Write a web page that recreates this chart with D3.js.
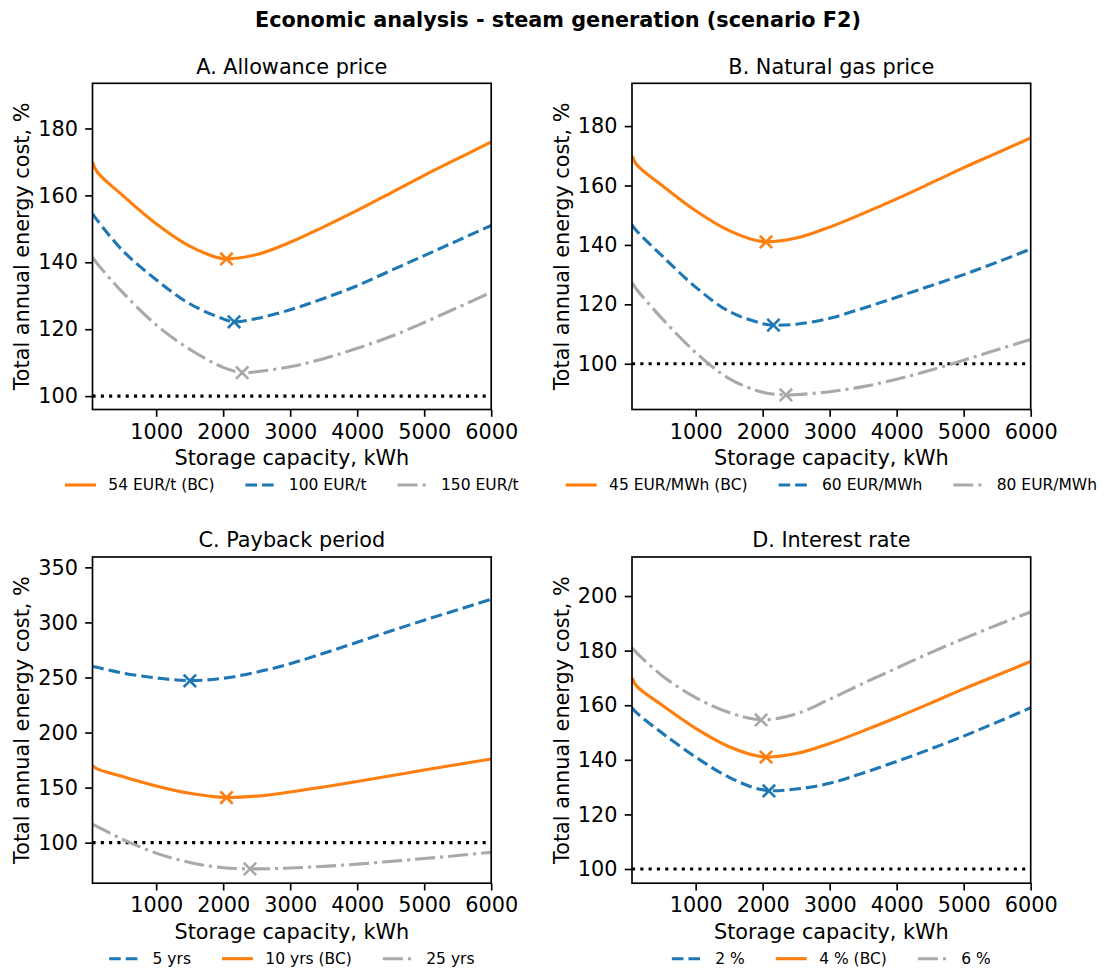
<!DOCTYPE html>
<html>
<head>
<meta charset="utf-8">
<script src="https://cdn.jsdelivr.net/npm/d3@7"></script>
<style>
  body { margin: 0; background: #fff; }
  text { font-family: "DejaVu Sans", sans-serif; fill: #000; }
</style>
</head>
<body>
<svg id="chart" width="1108" height="970"></svg>
<script>
// storage capacity grid, kWh
const capacity = [50, 120, 500, 1000, 1500, 2000, 2500, 3000, 3500, 4000, 4500, 5000, 5500, 6000];
const xTicks = [1000, 2000, 3000, 4000, 5000, 6000];

// base case (same curve in every panel)
const baseCase = [170, 167, 160.0, 151.5, 144.8, 141.1, 142.3, 146, 150.6, 155.5, 160.7, 166, 171, 176];
const baseOpt = [2050, 141];

// A. allowance price
const allow100 = [154.5, 152.6, 143.5, 134.8, 127.6, 123.1, 123.2, 125.8, 129.2, 133, 137.5, 142, 146.5, 151];
const allow150 = [141.5, 139.6, 131, 121.3, 114, 108.6, 107.3, 108.8, 111.2, 114.3, 117.8, 122, 126.5, 131];
const allow100Opt = [2163, 122.2];
const allow150Opt = [2283, 107];

// B. natural gas price
const gas60 = [146.7, 144.7, 136.3, 125.8, 117.6, 113.5, 113.3, 115.3, 118.7, 122.4, 126.2, 130, 134.2, 138.6];
const gas80 = [127.3, 125, 115.2, 103.8, 95, 90.4, 89.6, 90.6, 92.3, 94.8, 97.8, 101.2, 104.7, 108.2];
const gas60Opt = [2161, 113];
const gas80Opt = [2347, 89.5];

// C. payback period
const payback5 = [260.3, 259.2, 254, 249.6, 247.2, 249.3, 254.8, 262.5, 272, 282, 292.2, 302, 311.5, 321];
const payback25 = [116.7, 114.6, 103, 90.5, 82, 77.3, 76.2, 77, 78.5, 80.5, 83, 85.6, 88.3, 91.3];
const payback5Opt = [1503, 247];
const payback25Opt = [2400, 76.1];

// D. interest rate
const rate2 = [159.1, 157.2, 149.8, 141, 133.6, 129, 129.3, 131.4, 135.2, 139.4, 143.9, 148.7, 153.8, 159.1];
const rate6 = [181.1, 179.2, 170.8, 162.8, 157.3, 154.7, 156.8, 162.2, 168, 173.6, 179.2, 184.4, 189.4, 194.2];
const rate2Opt = [2094, 128.6];
const rate6Opt = [1977, 154.6];

const reference = 100;

const orange = '#ff7f0e', blue = '#1f77b4', grey = '#a9a9a9';
const dashed = '11.6,5', dashdot = '20,5,3.1,5';

const panels = [
  { title: 'A. Allowance price', yDomain: [96, 193.5], yTicks: [100, 120, 140, 160, 180],
    series: [
      { label: '54 EUR/t (BC)', values: baseCase, opt: baseOpt, color: orange, dash: null },
      { label: '100 EUR/t', values: allow100, opt: allow100Opt, color: blue, dash: dashed },
      { label: '150 EUR/t', values: allow150, opt: allow150Opt, color: grey, dash: dashdot }
    ] },
  { title: 'B. Natural gas price', yDomain: [84.6, 194.4], yTicks: [100, 120, 140, 160, 180],
    series: [
      { label: '45 EUR/MWh (BC)', values: baseCase, opt: baseOpt, color: orange, dash: null },
      { label: '60 EUR/MWh', values: gas60, opt: gas60Opt, color: blue, dash: dashed },
      { label: '80 EUR/MWh', values: gas80, opt: gas80Opt, color: grey, dash: dashdot }
    ] },
  { title: 'C. Payback period', yDomain: [63.2, 359.4], yTicks: [100, 150, 200, 250, 300, 350],
    series: [
      { label: '5 yrs', values: payback5, opt: payback5Opt, color: blue, dash: dashed },
      { label: '10 yrs (BC)', values: baseCase, opt: baseOpt, color: orange, dash: null },
      { label: '25 yrs', values: payback25, opt: payback25Opt, color: grey, dash: dashdot }
    ] },
  { title: 'D. Interest rate', yDomain: [94.8, 214.3], yTicks: [100, 120, 140, 160, 180, 200],
    series: [
      { label: '2 %', values: rate2, opt: rate2Opt, color: blue, dash: dashed },
      { label: '4 % (BC)', values: baseCase, opt: baseOpt, color: orange, dash: null },
      { label: '6 %', values: rate6, opt: rate6Opt, color: grey, dash: dashdot }
    ] }
];

const svg = d3.select('#chart');
const W = 398.7, H = 326.2, LW = 3.1;
const fs = '20.8px';

svg.append('text')
  .attr('x', 558).attr('y', 20)
  .attr('text-anchor', 'middle').attr('dominant-baseline', 'central')
  .style('font-size', fs).style('font-weight', 'bold')
  .text('Economic analysis - steam generation (scenario F2)');

panels.forEach((p, i) => {
  const left = i % 2 ? 632 : 92.5;
  const top = i < 2 ? 83.3 : 557;
  const g = svg.append('g').attr('transform', `translate(${left},${top})`);

  const x = d3.scaleLinear().domain([50, 6000]).range([0, W]);
  const y = d3.scaleLinear().domain(p.yDomain).range([H, 0]);

  g.append('clipPath').attr('id', 'clip' + i)
    .append('rect').attr('width', W).attr('height', H);
  const plot = g.append('g').attr('clip-path', `url(#clip${i})`);

  // 100 % reference line
  plot.append('line')
    .attr('x1', x(50)).attr('x2', x(6000))
    .attr('y1', y(reference)).attr('y2', y(reference))
    .attr('stroke', '#000').attr('stroke-width', LW)
    .attr('stroke-dasharray', '3.1,5.2');

  const line = d3.line()
    .x(d => x(d[0])).y(d => y(d[1]))
    .curve(d3.curveCatmullRom.alpha(0.5));

  // draw order: base case first
  const order = p.series.slice().sort((a, b) => (a.dash === null ? -1 : 0) - (b.dash === null ? -1 : 0));
  order.forEach(s => {
    const pts = capacity.map((c, k) => [c, s.values[k]]);
    // add the optimum to the curve unless it sits right next to a grid point
    if (d3.min(capacity, c => Math.abs(c - s.opt[0])) >= 120) pts.push(s.opt);
    pts.sort((a, b) => a[0] - b[0]);
    plot.append('path')
      .datum(pts)
      .attr('d', line)
      .attr('fill', 'none')
      .attr('stroke', s.color)
      .attr('stroke-width', LW)
      .attr('stroke-dasharray', s.dash);
  });
  order.forEach(s => {
    const cx = x(s.opt[0]), cy = y(s.opt[1]), r = 6.2;
    plot.append('path')
      .attr('d', `M${cx - r},${cy - r}L${cx + r},${cy + r}M${cx - r},${cy + r}L${cx + r},${cy - r}`)
      .attr('stroke', s.color).attr('stroke-width', 2.6).attr('fill', 'none');
  });

  // axes
  const xAxis = g.append('g')
    .attr('transform', `translate(0,${H})`)
    .call(d3.axisBottom(x).tickValues(xTicks).tickSize(7.3).tickPadding(7.1).tickFormat(d3.format('d')));
  const yAxis = g.append('g')
    .call(d3.axisLeft(y).tickValues(p.yTicks).tickSize(7.3).tickPadding(7.2).tickFormat(d3.format('d')));
  [xAxis, yAxis].forEach(a => {
    a.attr('font-size', null).attr('font-family', null);
    a.select('.domain').remove();
    a.selectAll('line').attr('stroke', '#000').attr('stroke-width', 1.67);
    a.selectAll('text').style('font-size', fs);
  });

  g.append('rect')
    .attr('width', W).attr('height', H)
    .attr('fill', 'none').attr('stroke', '#000').attr('stroke-width', 1.67);

  g.append('text')
    .attr('x', W / 2).attr('y', -16.8)
    .attr('text-anchor', 'middle').attr('dominant-baseline', 'central')
    .style('font-size', fs).text(p.title);

  g.append('text')
    .attr('x', W / 2).attr('y', H + 48.6)
    .attr('text-anchor', 'middle').attr('dominant-baseline', 'central')
    .style('font-size', fs).text('Storage capacity, kWh');

  g.append('text')
    .attr('transform', `translate(-70.5,${H / 2}) rotate(-90)`)
    .attr('text-anchor', 'middle').attr('dominant-baseline', 'central')
    .style('font-size', fs).text('Total annual energy cost, %');

  // legend, three columns centred under the axes
  const hl = 31, htp = 12.4, cs = 31;
  const leg = g.append('g');
  let cursor = 0;
  p.series.forEach(s => {
    const item = leg.append('g').attr('transform', `translate(${cursor},0)`);
    item.append('line')
      .attr('x1', 0).attr('x2', hl)
      .attr('stroke', s.color).attr('stroke-width', LW)
      .attr('stroke-dasharray', s.dash);
    const t = item.append('text')
      .attr('x', hl + htp)
      .attr('dominant-baseline', 'central')
      .style('font-size', '15.5px').text(s.label);
    cursor += hl + htp + t.node().getComputedTextLength() + cs;
  });
  const total = cursor - cs;
  leg.attr('transform', `translate(${W / 2 - total / 2},${H + 75.5})`);
});
</script>
</body>
</html>
